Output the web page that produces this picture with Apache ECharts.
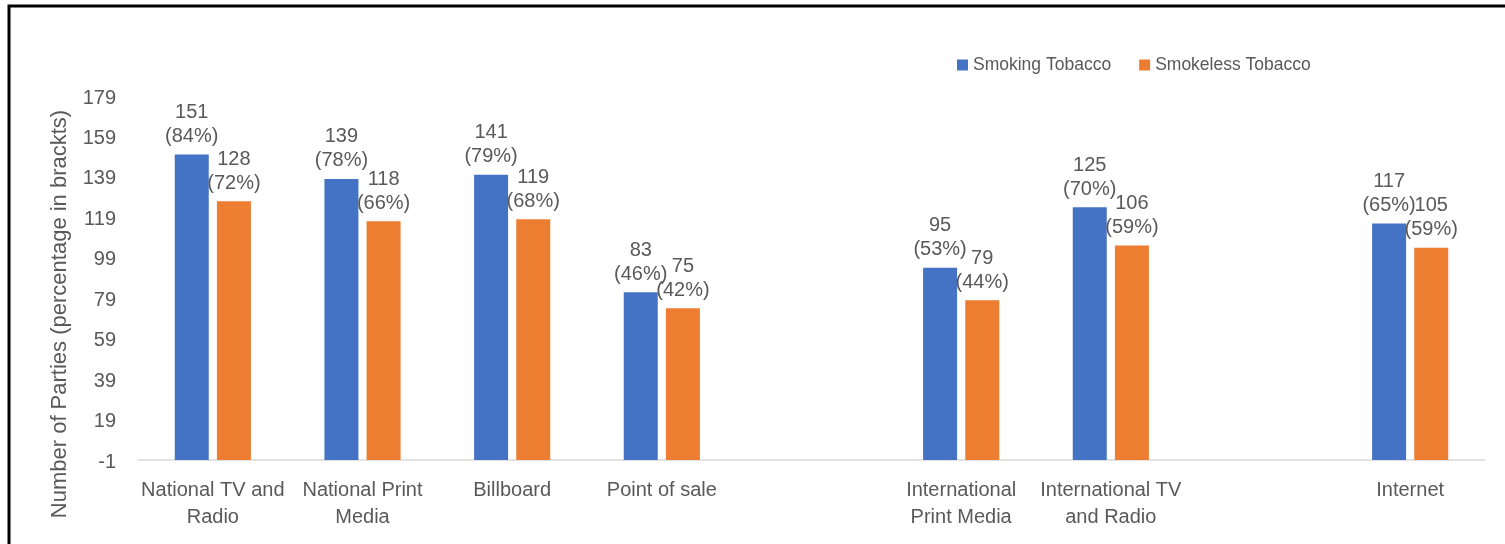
<!DOCTYPE html>
<html>
<head>
<meta charset="utf-8">
<script src="https://cdn.jsdelivr.net/npm/echarts@6/dist/echarts.min.js"></script>
<style>
  html, body { margin: 0; padding: 0; background: #fff; }
  #chart { width: 1505px; height: 544px; }
</style>
</head>
<body>
<div id="chart"></div>
<script>
// categories (empty strings are the gaps in the original chart)
const categories = ['National TV and\nRadio', 'National Print\nMedia', 'Billboard', 'Point of sale', '',
  'International\nPrint Media', 'International TV\nand Radio', '', 'Internet']
const smoking = [151, 139, 141, 83, '-', 95, 125, '-', 117]
const smokingPct = [84, 78, 79, 46, null, 53, 70, null, 65]
const smokeless = [128, 118, 119, 75, '-', 79, 106, '-', 105]
const smokelessPct = [72, 66, 68, 42, null, 44, 59, null, 59]
const yTicks = [-1, 19, 39, 59, 79, 99, 119, 139, 159, 179]

const FONT = '"Liberation Sans", Arial, sans-serif'
const GREY = '#595959'

function labelFor(pcts) {
  return {
    show: true,
    position: 'top',
    distance: 6,
    color: GREY,
    fontFamily: FONT,
    fontSize: 20,
    lineHeight: 24,
    formatter: p => p.value + '\n(' + pcts[p.dataIndex] + '%)'
  }
}

let chart = echarts.init(document.getElementById('chart'), null, { renderer: 'canvas' })

let option = {
  animation: false,
  backgroundColor: '#fff',
  grid: { left: 138, right: 20, top: 98, bottom: 82, containLabel: false },
  legend: {
    left: 952,
    top: 51,
    itemWidth: 11,
    itemHeight: 11,
    itemGap: 28,
    icon: 'rect',
    textStyle: { color: GREY, fontFamily: FONT, fontSize: 17.5 },
    data: ['Smoking Tobacco', 'Smokeless Tobacco']
  },
  xAxis: {
    type: 'category',
    data: categories,
    axisTick: { show: false },
    axisLine: { lineStyle: { color: '#D9D9D9', width: 1.5 } },
    axisLabel: {
      interval: 0,
      color: GREY,
      fontFamily: FONT,
      fontSize: 20,
      lineHeight: 27,
      margin: 15
    }
  },
  yAxis: {
    type: 'value',
    min: yTicks[0],
    max: yTicks[yTicks.length - 1],
    interval: 20,
    splitLine: { show: false },
    axisLine: { show: false },
    axisTick: { show: false },
    axisLabel: { color: GREY, fontFamily: FONT, fontSize: 20, margin: 22, padding: [4, 0, 0, 0] }
  },
  series: [
    {
      name: 'Smoking Tobacco',
      type: 'bar',
      data: smoking,
      barWidth: 34,
      barGap: '24%',
      itemStyle: { color: '#4472C4' },
      label: labelFor(smokingPct)
    },
    {
      name: 'Smokeless Tobacco',
      type: 'bar',
      data: smokeless,
      barWidth: 34,
      barGap: '24%',
      itemStyle: { color: '#ED7D31' },
      label: labelFor(smokelessPct)
    }
  ],
  graphic: [
    {
      type: 'text',
      x: 60,
      y: 314,
      rotation: Math.PI / 2,
      style: {
        text: 'Number of Parties (percentage in brackts)',
        fill: GREY,
        font: '22px ' + FONT,
        textAlign: 'center',
        textVerticalAlign: 'middle'
      }
    },
    {
      type: 'rect',
      shape: { x: 9, y: 6, width: 1600, height: 700 },
      style: { fill: 'none', stroke: '#000', lineWidth: 3 },
      z: 100
    }
  ]
}

chart.setOption(option)
</script>
</body>
</html>
